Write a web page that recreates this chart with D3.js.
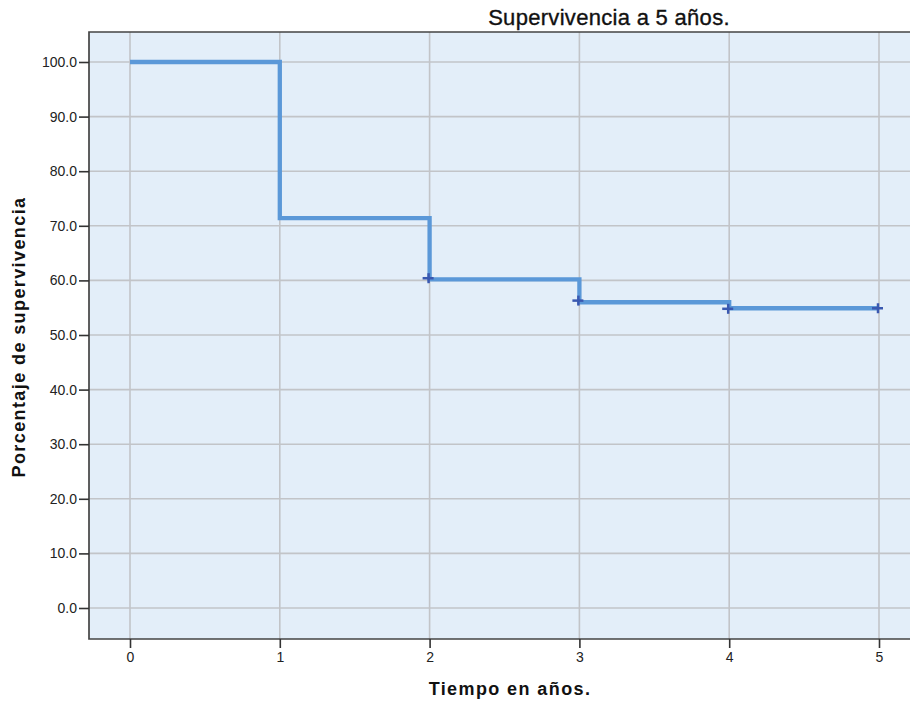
<!DOCTYPE html>
<html><head><meta charset="utf-8">
<script src="https://cdn.jsdelivr.net/npm/d3@7"></script>
<style>
html,body{margin:0;padding:0;background:#fff;}
svg{display:block;font-family:"Liberation Sans",Arial,sans-serif;}
</style></head>
<body><svg id="c" width="910" height="705"></svg>
<script>
const stepTimes = [0, 1, 2, 3, 4, 5];
const stepSurvival = [100, 71.4, 60.2, 56.0, 54.9, 54.9];
const censorTimes = [2, 3, 4, 5];
const censorSurvival = [60.4, 56.3, 54.8, 54.9];
const xTicks = [0, 1, 2, 3, 4, 5];
const yTicks = [0, 10, 20, 30, 40, 50, 60, 70, 80, 90, 100];
const title = "Supervivencia a 5 años.";
const xTitle = "Tiempo en años.";
const yTitle = "Porcentaje de supervivencia";

const svg = d3.select("#c");
const x = d3.scaleLinear().domain([0, 5]).range([130, 879]);
const y = d3.scaleLinear().domain([0, 100]).range([608, 62]);
const plot = {left: 89, top: 32, right: 960, bottom: 639};

svg.append("rect").attr("x", plot.left).attr("y", plot.top)
  .attr("width", plot.right - plot.left).attr("height", plot.bottom - plot.top)
  .attr("fill", "#E3EEF9");

// grid
svg.append("g").selectAll("line").data(yTicks).join("line")
  .attr("x1", plot.left).attr("x2", plot.right)
  .attr("y1", d => y(d)).attr("y2", d => y(d))
  .attr("stroke", "#C2C4C8").attr("stroke-width", 1.6);
svg.append("g").selectAll("line").data(xTicks).join("line")
  .attr("y1", plot.top).attr("y2", plot.bottom)
  .attr("x1", d => x(d)).attr("x2", d => x(d))
  .attr("stroke", "#C2C4C8").attr("stroke-width", 1.6);

// border
svg.append("path")
  .attr("d", `M${plot.right},${plot.top}H${plot.left}V${plot.bottom}H${plot.right}`)
  .attr("fill", "none").attr("stroke", "#444").attr("stroke-width", 1.7);

// axes
const yAxis = d3.axisLeft(y).tickValues(yTicks).tickFormat(d3.format(".1f")).tickSize(10).tickPadding(2);
const gy = svg.append("g").attr("transform", `translate(${plot.left},0)`).call(yAxis);
gy.select(".domain").remove();
gy.selectAll(".tick line").attr("stroke", "#333").attr("stroke-width", 1.6);
gy.selectAll(".tick text").attr("font-size", 14).attr("fill", "#222")
  .attr("font-family", "'Liberation Sans',Arial,sans-serif");

const xAxis = d3.axisBottom(x).tickValues(xTicks).tickFormat(d3.format("d")).tickSize(9).tickPadding(4);
const gx = svg.append("g").attr("transform", `translate(0,${plot.bottom})`).call(xAxis);
gx.select(".domain").remove();
gx.selectAll(".tick line").attr("stroke", "#333").attr("stroke-width", 1.6);
gx.selectAll(".tick text").attr("font-size", 14).attr("fill", "#222")
  .attr("font-family", "'Liberation Sans',Arial,sans-serif");

// step line
const pts = stepTimes.map((t, i) => [t, stepSurvival[i]]);
const line = d3.line().x(d => x(d[0])).y(d => y(d[1])).curve(d3.curveStepAfter);
svg.append("path").datum(pts).attr("d", line)
  .attr("fill", "none").attr("stroke", "#5B98D8").attr("stroke-width", 4.3)
  .attr("stroke-linejoin", "miter");

// censor marks
const cg = svg.append("g").selectAll("g").data(censorTimes.map((t, i) => [t, censorSurvival[i]])).join("g")
  .attr("transform", d => `translate(${x(d[0]) - 2},${y(d[1])})`);
cg.append("line").attr("x1", -5).attr("x2", 6).attr("y1", 0).attr("y2", 0)
  .attr("stroke", "#3A58B0").attr("stroke-width", 2.5);
cg.append("line").attr("x1", 1).attr("x2", 1).attr("y1", -5).attr("y2", 5)
  .attr("stroke", "#3A58B0").attr("stroke-width", 2.5);

// titles
svg.append("text").attr("x", 609).attr("y", 25).attr("text-anchor", "middle")
  .attr("font-size", 22).attr("letter-spacing", 0.3).attr("fill", "#111")
  .attr("stroke", "#111").attr("stroke-width", 0.35).text(title);
svg.append("text").attr("x", 510).attr("y", 695).attr("text-anchor", "middle")
  .attr("font-size", 18).attr("font-weight", "bold").attr("letter-spacing", 1.4).attr("fill", "#111").text(xTitle);
svg.append("text").attr("transform", "translate(25,337) rotate(-90)").attr("text-anchor", "middle")
  .attr("font-size", 18).attr("font-weight", "bold").attr("letter-spacing", 1.4).attr("fill", "#111").text(yTitle);
</script></body></html>
